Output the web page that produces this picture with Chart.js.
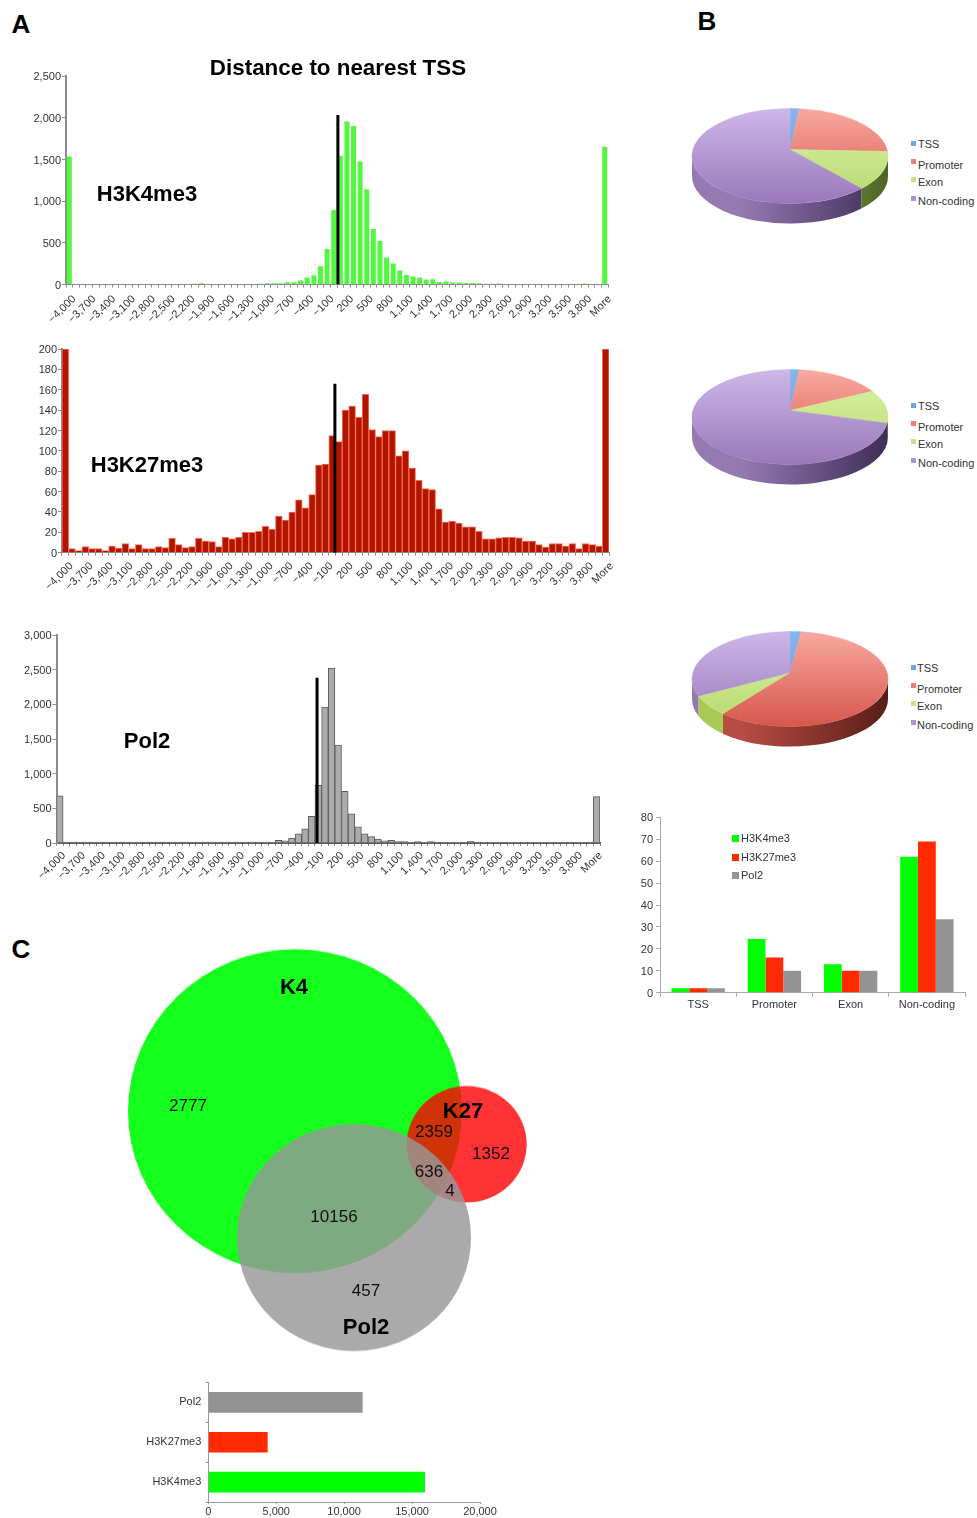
<!DOCTYPE html>
<html>
<head>
<meta charset="utf-8">
<title>Distance to nearest TSS</title>
<script src="https://cdn.jsdelivr.net/npm/chart.js@4"></script>
<style>
html, body { margin: 0; padding: 0; background: #fff; }
#page { position: relative; width: 977px; height: 1518px; overflow: hidden; font-family: "Liberation Sans", Arial, sans-serif; }
canvas { position: absolute; }
.t { position: absolute; transform: translate(-50%, -50%); white-space: nowrap; color: #000; }
.b { font-weight: bold; font-size: 22px; }
.panel { font-weight: bold; font-size: 26px; }
.n { font-size: 17px; color: #111; }
.lg { position: absolute; transform: translateY(-50%); font-size: 11px; color: #333; white-space: nowrap; }
.sw { position: absolute; }
</style>
</head>
<body>
<div id="page">
  <canvas id="histK4" width="630" height="280" style="left:0;top:60px"></canvas>
  <canvas id="histK27" width="630" height="275" style="left:0;top:335px"></canvas>
  <canvas id="histPol2" width="630" height="270" style="left:0;top:620px"></canvas>
  <canvas id="pie1" width="220" height="150" style="left:680px;top:81px"></canvas>
  <canvas id="pie2" width="220" height="150" style="left:680px;top:342px"></canvas>
  <canvas id="pie3" width="220" height="150" style="left:680px;top:604px"></canvas>
  <canvas id="regionBars" width="357" height="215" style="left:620px;top:805px"></canvas>
  <canvas id="venn" width="500" height="430" style="left:100px;top:940px;transform:scaleY(0.97);transform-origin:top left"></canvas>
  <canvas id="totals" width="400" height="148" style="left:120px;top:1370px"></canvas>

  <div class="t panel" style="left:21px;top:24px">A</div>
  <div class="t panel" style="left:707px;top:21px">B</div>
  <div class="t panel" style="left:21px;top:949px">C</div>
  <div class="t b" style="left:338px;top:68px;font-size:22.4px">Distance to nearest TSS</div>
  <div class="t b" style="left:147px;top:194px">H3K4me3</div>
  <div class="t b" style="left:147px;top:465px">H3K27me3</div>
  <div class="t b" style="left:147px;top:741px">Pol2</div>
  <div class="t b" style="left:294px;top:987px">K4</div>
  <div class="t b" style="left:463px;top:1111px">K27</div>
  <div class="t b" style="left:366px;top:1327px">Pol2</div>
  <div class="t n" style="left:188px;top:1106px">2777</div>
  <div class="t n" style="left:434px;top:1132px">2359</div>
  <div class="t n" style="left:491px;top:1154px">1352</div>
  <div class="t n" style="left:429px;top:1172px">636</div>
  <div class="t n" style="left:450px;top:1191px">4</div>
  <div class="t n" style="left:334px;top:1217px">10156</div>
  <div class="t n" style="left:366px;top:1291px">457</div>
</div>

<script>
// histogram bins
var bins = ["−4,000","−3,900","−3,800","−3,700","−3,600","−3,500","−3,400","−3,300","−3,200","−3,100","−3,000","−2,900","−2,800","−2,700","−2,600","−2,500","−2,400","−2,300","−2,200","−2,100","−2,000","−1,900","−1,800","−1,700","−1,600","−1,500","−1,400","−1,300","−1,200","−1,100","−1,000","−900","−800","−700","−600","−500","−400","−300","−200","−100","0","100","200","300","400","500","600","700","800","900","1,000","1,100","1,200","1,300","1,400","1,500","1,600","1,700","1,800","1,900","2,000","2,100","2,200","2,300","2,400","2,500","2,600","2,700","2,800","2,900","3,000","3,100","3,200","3,300","3,400","3,500","3,600","3,700","3,800","3,900","4,000","More"];

var k4Counts = [1536,8,6,6,6,6,6,6,6,6,6,6,6,6,6,6,6,6,6,10,16,6,6,6,6,6,6,6,8,10,16,16,16,28,28,48,84,112,220,428,896,1544,1956,1904,1476,1140,668,524,324,252,168,116,96,84,60,64,32,36,24,24,20,20,16,10,10,14,8,6,6,6,6,6,6,6,6,6,6,6,12,6,6,1652];
var k27Counts = [200,4,2,6,4,4,2,6.5,4.5,9,4,8,4,4,6,5,14,8,5,6,14,11.5,11,6,15,13.5,15,20,20,21,26,23,36,32,40,52,44,57,86,87,115,109,140,144,133,155.5,121,114,120,120,95,100,83,71,63,62,43,30,31,29,25.5,25.5,21,13.5,13.5,14.5,15,15,14.5,11.5,11.5,8,5.5,9,9,6.5,9,4,9,8,6.5,200];
var pol2Counts = [682,12,12,12,12,12,12,12,12,12,12,12,12,12,12,12,12,12,12,12,12,12,12,12,12,12,12,12,12,12,12,14,14,38,33,72,134,206,383,833,1962,2522,1412,746,421,234,134,91,57,33,38,19,19,10,19,10,19,10,10,10,10,10,24,10,10,10,10,10,10,10,10,10,10,10,10,10,10,10,10,10,10,670];

// position of the black TSS marker, in bins, and its height
var k4MarkerBin = [41.15, 41.15];
var k4MarkerTop = [0, 2036];
var k27MarkerBin = [40.9, 40.9];
var k27MarkerTop = [0, 166];
var pol2MarkerBin = [39.1, 39.1];
var pol2MarkerTop = [0, 2383];

// pies
var pieLabels = ["TSS", "Promoter", "Exon", "Non-coding"];
var pie1Values = [1.5, 22, 13.5, 63];
var pie2Values = [1.5, 14.4, 11.2, 72.9];
var pie3Values = [1.8, 60.2, 7.2, 30.8];

// region bars
var regions = ["TSS", "Promoter", "Exon", "Non-coding"];
var seriesNames = ["H3K4me3", "H3K27me3", "Pol2"];
var regionK4 = [2, 24.5, 13, 62];
var regionK27 = [2, 16, 10, 69];
var regionPol2 = [2, 10, 10, 33.5];

// venn circles
var vennSets = ["K4", "K27", "Pol2"];
var vennX = [195, 366.7, 254];
var vennY = [176.5, 210.6, 306.7];
var vennR = [167, 60, 117];

// totals
var totalNames = ["Pol2", "H3K27me3", "H3K4me3"];
var totalPeaks = [11360, 4370, 15950];

var GREEN = "#00ff00", RED = "#ff2a00", GREY = "#939393";
var AXIS = "#8c8c8c", INK = "#333";

Chart.defaults.font.family = '"Liberation Sans", Arial, sans-serif';
Chart.defaults.font.size = 11;
Chart.defaults.color = INK;
Chart.defaults.animation = false;
Chart.defaults.responsive = false;
Chart.defaults.plugins.legend.display = false;
Chart.defaults.plugins.tooltip.enabled = false;

function points(xs, ys) {
    return xs.map(function(x, i) { return {x: x, y: ys[i]}; });
}

function fixedSize(prop, size) {
    return function(scale) { scale[prop] = size; };
}

function drawHisto(id, counts, markerBin, markerTop, o) {
    new Chart(document.getElementById(id), {
        type: "bar",
        data: {
            labels: bins,
            datasets: [{
                type: "line",
                xAxisID: "xMarker",
                data: points(markerBin, markerTop),
                borderColor: "#000",
                borderWidth: 3,
                pointRadius: 0,
                order: 0
            }, {
                data: counts,
                grouped: false,   // else the marker's own x axis takes half of every bin
                backgroundColor: o.fill,
                borderColor: o.edge,
                borderWidth: o.edgeWidth,
                barPercentage: o.barPct,
                categoryPercentage: 1,
                order: 1
            }]
        },
        options: {
            locale: "en-US",
            layout: {padding: {top: o.top, right: o.right}},
            scales: {
                x: {
                    offset: true,
                    afterFit: fixedSize("height", o.xHeight),
                    grid: {offset: true, drawOnChartArea: false, tickLength: 3, color: AXIS},
                    border: {color: o.baseColor, width: o.baseWidth},
                    ticks: {
                        autoSkip: false, minRotation: 45, maxRotation: 45,
                        padding: o.labelDown, labelOffset: o.labelRight,
                        font: {size: 11},
                        callback: function(v, i) { return i % 3 == 0 ? bins[i] : ""; }
                    }
                },
                xMarker: {type: "linear", axis: "x", display: false, min: 0, max: bins.length},
                y: {
                    min: 0, max: o.max,
                    afterFit: fixedSize("width", o.left),
                    grid: {drawOnChartArea: false, tickLength: 4, color: AXIS},
                    border: {color: AXIS, width: 2},
                    ticks: {stepSize: o.step, padding: 1, labelOffset: 1, font: {size: 11}}
                }
            }
        }
    });
}

drawHisto("histK4", k4Counts, k4MarkerBin, k4MarkerTop, {
    fill: "#52f83f", edge: "#52f83f", edgeWidth: 0, barPct: 0.76, baseColor: AXIS, baseWidth: 1,
    top: 16.2, right: 22, left: 66, xHeight: 55.4, max: 2500, step: 500, labelDown: 5, labelRight: 5
});
drawHisto("histK27", k27Counts, k27MarkerBin, k27MarkerTop, {
    fill: "#b01500", edge: "#ff6a50", edgeWidth: 1, barPct: 1, baseColor: AXIS, baseWidth: 1,
    top: 14, right: 21, left: 62, xHeight: 57.3, max: 200, step: 20, labelDown: 4, labelRight: 6
});
drawHisto("histPol2", pol2Counts, pol2MarkerBin, pol2MarkerTop, {
    fill: "#ababab", edge: "#5c5c5c", edgeWidth: 1, barPct: 1, baseColor: "#5c5c5c", baseWidth: 2,
    top: 15, right: 30, left: 56.5, xHeight: 47, max: 3000, step: 500, labelDown: 3, labelRight: 4
});

// Chart.js has no tilted pie, so the arcs it computes are drawn here as a squashed disc with a wall
var topShades = [["#84b6ee", "#5f98dd"], ["#f9a9a0", "#d6564c"], ["#def3a8", "#b4d96e"], ["#ccb8e8", "#9a77bb"]];
var wallShades = [["#5f8fc8", "#3a5c8a"], ["#b84c44", "#571e17"], ["#a6ca52", "#4d6426"], ["#957ab2", "#3d2d56"]];

var pie3d = {
    id: "pie3d",
    beforeDatasetsDraw: function(chart, args, o) {
        var ctx = chart.ctx;
        var arcs = chart.getDatasetMeta(0).data;
        var cx = arcs[0].x, cy = arcs[0].y;
        var i, fill;

        // wall: only the front half of the rim shows
        for (i = 0; i < arcs.length; i++) {
            var a0 = Math.max(arcs[i].startAngle, 0);
            var a1 = Math.min(arcs[i].endAngle, Math.PI);
            if (a1 <= a0) continue;
            fill = ctx.createLinearGradient(cx - o.rx, 0, cx + o.rx, 0);
            fill.addColorStop(0, wallShades[i][0]);
            fill.addColorStop(0.25, wallShades[i][0]);
            fill.addColorStop(1, wallShades[i][1]);
            ctx.beginPath();
            ctx.ellipse(cx, cy + o.depth, o.rx, o.ry, 0, a0, a1);
            ctx.ellipse(cx, cy, o.rx, o.ry, 0, a1, a0, true);
            ctx.closePath();
            ctx.fillStyle = fill;
            ctx.fill();
        }

        // top face, the slices meet above the middle of the ellipse
        for (i = 0; i < arcs.length; i++) {
            fill = ctx.createLinearGradient(0, cy - o.ry, 0, cy + o.ry);
            fill.addColorStop(0, topShades[i][0]);
            fill.addColorStop(1, topShades[i][1]);
            ctx.beginPath();
            ctx.moveTo(cx, cy - o.lift);
            ctx.ellipse(cx, cy, o.rx, o.ry, 0, arcs[i].startAngle, arcs[i].endAngle);
            ctx.closePath();
            ctx.fillStyle = fill;
            ctx.strokeStyle = fill;
            ctx.lineWidth = 0.5;
            ctx.fill();
            ctx.stroke();
        }
        return false;
    }
};

function drawPie(id, values) {
    new Chart(document.getElementById(id), {
        type: "pie",
        data: {labels: pieLabels, datasets: [{data: values}]},
        options: {plugins: {pie3d: {rx: 98, ry: 47.5, depth: 20, lift: 6.5}}},
        plugins: [pie3d]
    });
}
drawPie("pie1", pie1Values);
drawPie("pie2", pie2Values);
drawPie("pie3", pie3Values);

function addLegend(names, colors, swSize, swX, swY, textX, textY) {
    var page = document.getElementById("page");
    names.forEach(function(name, i) {
        var sw = document.createElement("div");
        sw.className = "sw";
        sw.style.cssText = "left:" + swX + "px;top:" + (swY[i] - swSize / 2) + "px;width:" + swSize + "px;height:" + swSize + "px;background:" + colors[i];
        page.appendChild(sw);
        var lab = document.createElement("div");
        lab.className = "lg";
        lab.style.left = textX + "px";
        lab.style.top = textY[i] + "px";
        lab.textContent = name;
        page.appendChild(lab);
    });
}
var pieKeyColors = ["#6ea6e6", "#ee7f76", "#c4e488", "#ae92d2"];
addLegend(pieLabels, pieKeyColors, 5, 911, [143, 161, 179, 198], 918, [144, 165, 182, 201]);
addLegend(pieLabels, pieKeyColors, 5, 911, [405, 423, 441, 460], 918, [406, 427, 444, 463]);
addLegend(pieLabels, pieKeyColors, 5, 911, [667, 685, 703, 722], 917, [668, 689, 706, 725]);
addLegend(seriesNames, [GREEN, RED, GREY], 7, 732, [838, 857, 875], 741, [838, 857, 875]);

new Chart(document.getElementById("regionBars"), {
    type: "bar",
    data: {
        labels: regions,
        datasets: [
            {label: seriesNames[0], data: regionK4, backgroundColor: GREEN},
            {label: seriesNames[1], data: regionK27, backgroundColor: RED},
            {label: seriesNames[2], data: regionPol2, backgroundColor: GREY}
        ]
    },
    options: {
        layout: {padding: {top: 12.3, right: 12}},
        datasets: {bar: {barPercentage: 1, categoryPercentage: 0.7}},
        scales: {
            x: {
                afterFit: fixedSize("height", 27.3),
                grid: {offset: true, drawOnChartArea: false, tickLength: 4, color: "#aaa"},
                border: {color: "#aaa"},
                ticks: {padding: 2, maxRotation: 0, font: {size: 11}}
            },
            y: {
                min: 0, max: 80,
                afterFit: fixedSize("width", 40),
                grid: {drawOnChartArea: false, tickLength: 4, color: "#aaa"},
                border: {color: "#aaa"},
                ticks: {stepSize: 10, padding: 3, labelOffset: 1, font: {size: 11}}
            }
        }
    }
});

// a bubble chart reserves the largest radius on every side of its plot area,
// so the axis limits start there to keep one data unit equal to one canvas pixel
var vennInset = Math.max.apply(null, vennR);

new Chart(document.getElementById("venn"), {
    type: "bubble",
    data: {
        labels: vennSets,
        datasets: [{
            data: vennX.map(function(x, i) { return {x: x, y: vennY[i], r: vennR[i]}; }),
            backgroundColor: ["#14ff1c", "rgba(255,0,4,0.8)", "rgba(151,151,151,0.82)"],
            borderWidth: 0,
            hoverBorderWidth: 0,
            clip: false
        }]
    },
    options: {
        scales: {
            x: {display: false, min: vennInset, max: 500 - vennInset},
            y: {display: false, min: vennInset, max: 430 - vennInset, reverse: true}
        }
    }
});

new Chart(document.getElementById("totals"), {
    type: "bar",
    data: {
        labels: totalNames,
        datasets: [{
            data: totalPeaks,
            backgroundColor: [GREY, RED, GREEN],
            barPercentage: 0.52,
            categoryPercentage: 1
        }]
    },
    options: {
        indexAxis: "y",
        locale: "en-US",
        layout: {padding: {top: 12.5, right: 40}},
        scales: {
            x: {
                min: 0, max: 20000,
                afterFit: fixedSize("height", 16),
                grid: {drawOnChartArea: false, tickLength: 2, color: "#a09898"},
                border: {color: "#a09898"},
                ticks: {stepSize: 5000, padding: 1, maxRotation: 0, font: {size: 11}}
            },
            y: {
                afterFit: fixedSize("width", 88.3),
                grid: {offset: true, drawOnChartArea: false, tickLength: 3, color: "#a09898"},
                border: {color: "#a09898"},
                ticks: {padding: 4, font: {size: 11}}
            }
        }
    }
});
</script>
</body>
</html>
